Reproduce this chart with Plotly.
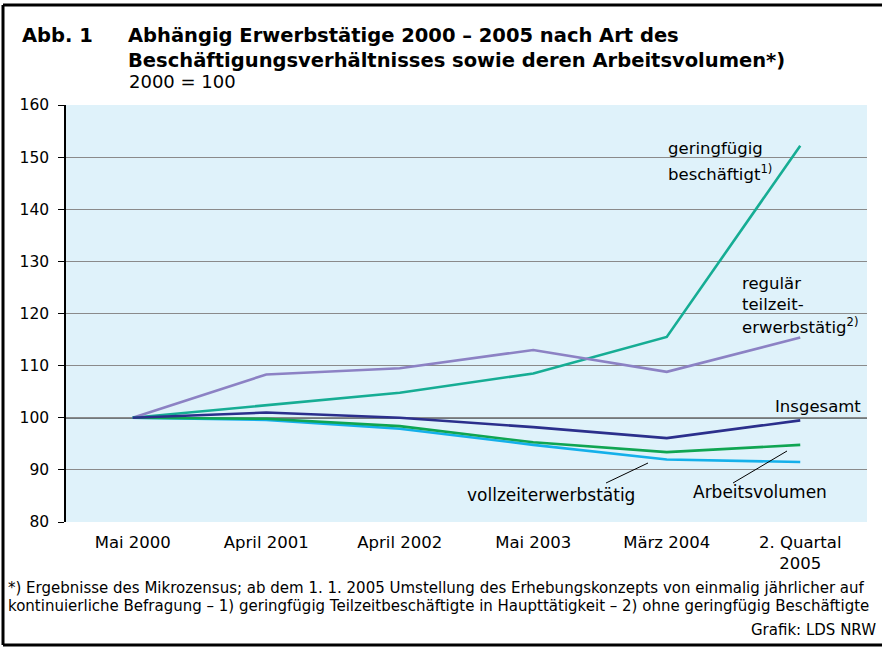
import plotly.graph_objects as go

# -----------------------------
# DATA (2000 = 100)
# -----------------------------
periods = ["Mai 2000", "April 2001", "April 2002", "Mai 2003", "März 2004", "2. Quartal<br>2005"]

geringfuegig = [100, 102.4, 104.8, 108.5, 115.5, 152.2]
regulaer_teilzeit = [100, 108.3, 109.5, 113.0, 108.8, 115.4]
insgesamt = [100, 101.0, 100.0, 98.2, 96.1, 99.5]
arbeitsvolumen = [100, 99.8, 98.4, 95.3, 93.4, 94.8]
vollzeit = [100, 99.6, 97.9, 94.8, 92.0, 91.5]

series = [
    ("geringfügig beschäftigt", geringfuegig, "#16ad94"),
    ("regulär teilzeiterwerbstätig", regulaer_teilzeit, "#8c82c4"),
    ("vollzeiterwerbstätig", vollzeit, "#14b0ea"),
    ("Arbeitsvolumen", arbeitsvolumen, "#0fa552"),
    ("Insgesamt", insgesamt, "#2b2f8c"),
]

FONT = "DejaVu Sans"

# plot area in pixels: left 66, right 867, top 105, bottom 522
L, R, T, B = 66, 15, 105, 126
W, H = 882, 648
PW, PH = W - L - R, H - T - B


def px(x):
    return (x - L) / PW


def py(y):
    return (H - B - y) / PH


fig = go.Figure()

for name, vals, color in series:
    fig.add_trace(go.Scatter(
        x=list(range(len(periods))),
        y=vals,
        name=name,
        mode="lines",
        line=dict(color=color, width=2.6),
    ))

fig.update_xaxes(
    range=[-0.5, 5.5],
    tickmode="array",
    tickvals=list(range(len(periods))),
    ticktext=periods,
    showgrid=False,
    zeroline=False,
    showline=False,
    ticks="",
    tickfont=dict(family=FONT, size=16.5, color="black"),
    ticklabelstandoff=8,
)

fig.update_yaxes(
    range=[80, 160],
    dtick=10,
    showgrid=True,
    gridcolor="#8a8a8a",
    gridwidth=1,
    zeroline=False,
    showline=True,
    linecolor="black",
    linewidth=1.5,
    ticks="outside",
    ticklen=6,
    tickcolor="black",
    tickfont=dict(family=FONT, size=15.5, color="black"),
    ticklabelstandoff=6,
)

shapes = [
    # black reference line at 100
    dict(type="line", xref="paper", yref="y", x0=0, x1=1, y0=100, y1=100,
         line=dict(color="black", width=1.5), layer="below"),
    # pointer lines
    dict(type="line", xref="paper", yref="paper", x0=px(606), y0=py(483), x1=px(648), y1=py(463),
         line=dict(color="black", width=1)),
    dict(type="line", xref="paper", yref="paper", x0=px(733), y0=py(483), x1=px(787), y1=py(451),
         line=dict(color="black", width=1)),
    # outer frame
    dict(type="line", xref="paper", yref="paper", x0=px(3), y0=py(5), x1=px(884), y1=py(5),
         line=dict(color="black", width=3)),
    dict(type="line", xref="paper", yref="paper", x0=px(3), y0=py(5), x1=px(3), y1=py(645),
         line=dict(color="black", width=3)),
    dict(type="line", xref="paper", yref="paper", x0=px(3), y0=py(645), x1=px(884), y1=py(645),
         line=dict(color="black", width=3)),
]


def label(text, x, y, anchor="left", size=16.5, bold=False):
    return dict(
        text=f"<b>{text}</b>" if bold else text,
        xref="paper", yref="paper",
        x=px(x), y=py(y),
        xanchor=anchor, yanchor="middle",
        showarrow=False, align=anchor,
        font=dict(family=FONT, size=size, color="black"),
    )


annotations = [
    label("Abb. 1", 20, 36, size=19.5, bold=True),
    label("Abhängig Erwerbstätige 2000 – 2005 nach Art des", 126, 36, size=19.5, bold=True),
    label("Beschäftigungsverhältnisses sowie deren Arbeitsvolumen*)", 126, 60, size=19.5, bold=True),
    label("2000 = 100", 127, 82, size=18),
    label("geringfügig", 666, 148),
    label("beschäftigt<sup>1)</sup>", 666, 173),
    label("regulär", 740, 283),
    label("teilzeit-", 740, 304),
    label("erwerbstätig<sup>2)</sup>", 740, 326),
    label("Insgesamt", 863, 406, anchor="right"),
    label("vollzeiterwerbstätig", 465, 495, size=17),
    label("Arbeitsvolumen", 691, 492, size=17),
    label("*) Ergebnisse des Mikrozensus; ab dem 1. 1. 2005 Umstellung des Erhebungskonzepts "
          "von einmalig jährlicher auf", 6, 588, size=15),
    label("kontinuierliche Befragung – 1) geringfügig Teilzeitbeschäftigte in Haupttätigkeit "
          "– 2) ohne geringfügig Beschäftigte", 6, 606, size=15),
    label("Grafik: LDS NRW", 878, 630, anchor="right", size=15),
]

fig.update_layout(
    width=W,
    height=H,
    margin=dict(l=L, r=R, t=T, b=B),
    paper_bgcolor="white",
    plot_bgcolor="#dff2fa",
    showlegend=False,
    shapes=shapes,
    annotations=annotations,
    font=dict(family=FONT, color="black"),
)

# drop the default body margin so the figure sits at the window origin
fig.write_html(
    "out.html",
    config={"displayModeBar": False},
    post_script="document.body.style.margin = '0';",
)
